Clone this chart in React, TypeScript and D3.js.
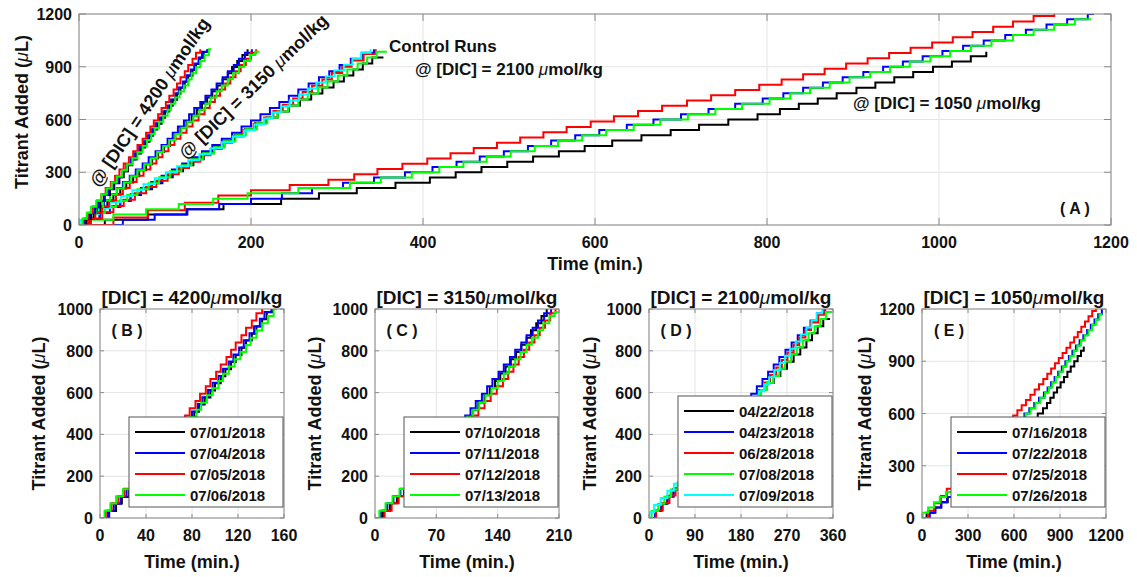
import React from "react";
import * as d3 from "d3";

type Pt = [number, number];
type Series = { label: string; color: string; data: Pt[] };

const FONT = "'Liberation Sans', Arial, Helvetica, sans-serif";

// [time (min.), titrant added (uL)] at each dose
// DIC = 4200 umol/kg
const run0701: Pt[] = [[6,0],[8,34],[14,69],[19,101],[25,136],[30,170],[36,203],[41,238],[47,271],[52,305],[57,340],[62,372],[67,407],[72,441],[77,474],[82,508],[86,543],[91,576],[96,610],[100,645],[105,678],[109,712],[114,747],[118,780],[123,814],[127,849],[132,882],[136,916],[141,951],[145,984],[150,1000]];
const run0704: Pt[] = [[4,0],[7,35],[12,68],[18,103],[23,137],[29,170],[34,205],[40,239],[45,272],[50,306],[55,341],[60,374],[65,408],[70,443],[75,476],[80,510],[85,545],[89,578],[94,612],[98,647],[103,680],[107,714],[112,749],[116,782],[121,816],[125,851],[130,884],[134,918],[139,953],[143,986],[149,1000]];
const run0705: Pt[] = [[3,0],[5,35],[10,70],[16,105],[21,140],[26,175],[31,210],[37,245],[42,280],[47,315],[52,350],[58,385],[63,420],[68,455],[74,490],[78,525],[83,560],[87,595],[92,630],[96,665],[101,700],[105,735],[110,770],[114,805],[118,840],[123,875],[127,910],[132,945],[136,980],[141,1000]];
const run0706: Pt[] = [[1,0],[4,35],[9,69],[14,104],[20,138],[26,173],[32,207],[38,242],[44,276],[50,311],[56,345],[62,380],[68,414],[74,449],[79,483],[84,518],[88,552],[93,587],[98,621],[103,656],[107,690],[112,725],[117,759],[122,794],[127,828],[131,863],[136,897],[141,932],[146,966],[151,1000],[154,1000]];

// DIC = 3150 umol/kg
const run0710: Pt[] = [[5,0],[9,35],[17,70],[25,104],[33,139],[40,173],[48,208],[55,242],[63,277],[70,311],[78,346],[85,380],[92,415],[99,449],[106,484],[112,518],[118,553],[125,587],[131,622],[137,656],[143,691],[149,725],[155,760],[161,794],[167,829],[173,863],[178,898],[184,932],[190,967],[196,1000]];
const run0711: Pt[] = [[2,0],[7,35],[14,70],[21,105],[29,140],[36,175],[44,210],[51,245],[59,280],[66,315],[74,350],[81,385],[89,420],[96,455],[103,490],[109,525],[115,560],[122,595],[128,630],[134,665],[141,700],[147,735],[154,770],[160,805],[167,840],[173,875],[180,910],[186,945],[193,980],[201,1000]];
const run0712: Pt[] = [[8,0],[11,35],[19,70],[27,105],[35,140],[43,175],[51,210],[59,245],[67,280],[75,315],[83,350],[90,385],[97,420],[104,455],[111,490],[118,525],[125,560],[132,595],[139,630],[146,665],[152,700],[158,735],[164,770],[170,805],[176,840],[182,875],[188,910],[194,945],[200,980],[206,1000]];
const run0713: Pt[] = [[0,0],[5,35],[12,70],[20,104],[28,139],[36,173],[44,208],[52,242],[60,277],[68,311],[76,346],[84,380],[91,415],[98,449],[105,484],[112,518],[119,553],[126,587],[133,622],[140,656],[147,691],[153,725],[160,760],[166,794],[173,829],[179,863],[186,898],[192,932],[199,967],[205,985],[210,985]];

// DIC = 2100 umol/kg (control runs)
const run0422: Pt[] = [[8,0],[12,34],[24,68],[36,102],[48,136],[60,170],[72,204],[85,238],[97,272],[109,306],[121,340],[133,374],[145,408],[157,442],[169,476],[181,510],[193,544],[205,578],[218,612],[231,646],[244,680],[257,714],[270,748],[283,782],[296,816],[308,850],[319,884],[330,918],[341,952],[354,952]];
const run0423: Pt[] = [[9,0],[12,35],[24,70],[36,105],[48,140],[60,175],[72,210],[84,245],[96,280],[108,315],[120,350],[132,385],[143,420],[155,455],[166,490],[178,525],[189,560],[200,595],[211,630],[222,665],[233,700],[244,735],[255,770],[267,805],[279,840],[291,875],[303,910],[316,945],[329,980],[343,1000]];
const run0628: Pt[] = [[10,0],[14,36],[27,72],[40,108],[52,144],[65,180],[78,216],[90,252],[103,288],[116,324],[128,360],[141,396],[153,432],[166,468],[178,504],[191,540],[203,576],[215,612],[226,648],[237,684],[249,720],[260,756],[271,792],[283,828],[294,864],[306,900],[317,936],[331,972],[345,1000]];
const run0708: Pt[] = [[2,0],[5,34],[18,68],[30,102],[43,136],[56,170],[68,204],[81,238],[93,272],[106,306],[119,340],[131,374],[144,408],[157,442],[169,476],[182,510],[194,544],[207,578],[219,612],[231,646],[243,680],[255,714],[266,748],[278,782],[289,816],[301,850],[312,884],[324,918],[335,952],[346,986],[358,986]];
const run0709: Pt[] = [[0,0],[1,28],[10,62],[23,96],[36,130],[49,164],[62,198],[75,232],[88,266],[101,300],[114,334],[127,368],[140,402],[153,436],[166,470],[179,504],[192,538],[204,572],[215,606],[225,640],[235,674],[245,708],[256,742],[266,776],[276,810],[287,844],[297,878],[308,912],[318,946],[328,980],[339,1000]];

// DIC = 1050 umol/kg
const run0716: Pt[] = [[12,0],[30,30],[80,60],[125,90],[168,120],[235,150],[279,180],[323,210],[368,240],[408,270],[438,300],[468,330],[498,360],[528,390],[558,420],[588,450],[620,480],[654,510],[688,540],[721,570],[755,600],[789,630],[815,660],[837,690],[859,720],[881,750],[904,780],[926,810],[948,840],[970,870],[993,900],[1015,930],[1037,960],[1055,985]];
const run0722: Pt[] = [[14,0],[51,30],[88,60],[126,90],[163,120],[200,150],[236,180],[271,210],[307,240],[343,270],[379,300],[411,330],[439,360],[466,390],[494,420],[522,450],[549,480],[577,510],[605,540],[637,570],[668,600],[700,630],[732,660],[763,690],[795,720],[819,750],[842,780],[865,810],[888,840],[912,870],[935,900],[958,930],[981,960],[1004,990],[1028,1020],[1052,1050],[1077,1080],[1101,1110],[1125,1140],[1149,1170],[1173,1200],[1180,1200]];
const run0725: Pt[] = [[8,0],[40,42],[80,84],[123,126],[162,168],[200,198],[245,228],[290,258],[320,288],[347,318],[376,348],[405,378],[432,408],[459,438],[486,468],[513,498],[540,528],[567,558],[595,588],[622,618],[650,648],[678,678],[707,708],[735,738],[763,768],[791,798],[817,828],[842,858],[867,888],[892,918],[917,948],[942,978],[967,1008],[992,1038],[1016,1068],[1039,1098],[1063,1128],[1086,1158],[1110,1188],[1134,1218]];
const run0726: Pt[] = [[0,0],[4,30],[40,60],[78,90],[116,120],[156,150],[196,180],[255,210],[315,240],[351,270],[387,300],[419,330],[447,360],[474,390],[502,420],[530,450],[557,480],[585,510],[613,540],[645,570],[676,600],[708,630],[740,660],[771,690],[803,720],[827,750],[850,780],[873,810],[896,840],[920,870],[943,900],[966,930],[990,960],[1013,990],[1037,1020],[1061,1050],[1086,1080],[1110,1110],[1134,1140],[1158,1170],[1177,1170]];

const BLACK = "#000000";
const BLUE = "#0000ff";
const RED = "#ff0000";
const GREEN = "#00ff00";
const CYAN = "#00ffff";

const dic4200: Series[] = [
  { label: "07/01/2018", color: BLACK, data: run0701 },
  { label: "07/04/2018", color: BLUE, data: run0704 },
  { label: "07/05/2018", color: RED, data: run0705 },
  { label: "07/06/2018", color: GREEN, data: run0706 },
];
const dic3150: Series[] = [
  { label: "07/10/2018", color: BLACK, data: run0710 },
  { label: "07/11/2018", color: BLUE, data: run0711 },
  { label: "07/12/2018", color: RED, data: run0712 },
  { label: "07/13/2018", color: GREEN, data: run0713 },
];
const dic2100: Series[] = [
  { label: "04/22/2018", color: BLACK, data: run0422 },
  { label: "04/23/2018", color: BLUE, data: run0423 },
  { label: "06/28/2018", color: RED, data: run0628 },
  { label: "07/08/2018", color: GREEN, data: run0708 },
  { label: "07/09/2018", color: CYAN, data: run0709 },
];
const dic1050: Series[] = [
  { label: "07/16/2018", color: BLACK, data: run0716 },
  { label: "07/22/2018", color: BLUE, data: run0722 },
  { label: "07/25/2018", color: RED, data: run0725 },
  { label: "07/26/2018", color: GREEN, data: run0726 },
];

const frameColor = "#8a8a8a";
const gridColor = "#e4e4e4";

const Mu = () => (
  <tspan fontStyle="italic" fontWeight="normal">μ</tspan>
);

type PanelProps = {
  id: string;
  x0: number;
  y0: number;
  w: number;
  h: number;
  xMax: number;
  yMax: number;
  xTicks: number[];
  yTicks: number[];
  series: Series[];
  tickLen: number;
  tickFs: number;
  labelFs: number;
  yLabelX: number;
  yLabelY?: number;
  xLabelY: number;
  children?: React.ReactNode;
};

function Panel(p: PanelProps) {
  const x = d3.scaleLinear().domain([0, p.xMax]).range([p.x0, p.x0 + p.w]);
  const y = d3.scaleLinear().domain([0, p.yMax]).range([p.y0 + p.h, p.y0]);
  const line = d3
    .line<Pt>()
    .x((d) => x(d[0]))
    .y((d) => y(d[1]))
    .curve(d3.curveStepAfter);
  const bottom = p.y0 + p.h;
  const right = p.x0 + p.w;

  return (
    <g>
      <defs>
        <clipPath id={p.id}>
          <rect x={p.x0} y={p.y0} width={p.w} height={p.h} />
        </clipPath>
      </defs>
      {/* grid */}
      {p.xTicks.map((t) => (
        <line key={"gx" + t} x1={x(t)} x2={x(t)} y1={p.y0} y2={bottom} stroke={gridColor} />
      ))}
      {p.yTicks.map((t) => (
        <line key={"gy" + t} x1={p.x0} x2={right} y1={y(t)} y2={y(t)} stroke={gridColor} />
      ))}
      {/* runs */}
      <g clipPath={`url(#${p.id})`}>
        {p.series.map((s) => (
          <path key={s.label} d={line(s.data) ?? ""} fill="none" stroke={s.color} strokeWidth={2} />
        ))}
      </g>
      {/* frame + inward ticks on all sides */}
      <rect x={p.x0} y={p.y0} width={p.w} height={p.h} fill="none" stroke={frameColor} />
      {p.xTicks.map((t) => (
        <g key={"tx" + t} stroke={frameColor}>
          <line x1={x(t)} x2={x(t)} y1={bottom} y2={bottom - p.tickLen} />
          <line x1={x(t)} x2={x(t)} y1={p.y0} y2={p.y0 + p.tickLen} />
        </g>
      ))}
      {p.yTicks.map((t) => (
        <g key={"ty" + t} stroke={frameColor}>
          <line x1={p.x0} x2={p.x0 + p.tickLen} y1={y(t)} y2={y(t)} />
          <line x1={right} x2={right - p.tickLen} y1={y(t)} y2={y(t)} />
        </g>
      ))}
      {/* tick labels */}
      <g fontWeight="bold" fontSize={p.tickFs} fill="#111">
        {p.xTicks.map((t) => (
          <text key={"lx" + t} x={x(t)} y={bottom + 23} textAnchor="middle">
            {t}
          </text>
        ))}
        {p.yTicks.map((t) => (
          <text key={"ly" + t} x={p.x0 - 7} y={y(t) + 6} textAnchor="end">
            {t}
          </text>
        ))}
      </g>
      {/* axis labels */}
      <g fontWeight="bold" fontSize={p.labelFs} fill="#111">
        <text x={(p.x0 + right) / 2} y={p.xLabelY} textAnchor="middle">
          Time (min.)
        </text>
        <text
          transform={`translate(${p.yLabelX},${p.yLabelY ?? (p.y0 + bottom) / 2}) rotate(-90)`}
          textAnchor="middle"
          dominantBaseline="central"
        >
          Titrant Added (<Mu />L)
        </text>
      </g>
      {p.children}
    </g>
  );
}

function Legend({ right, bottom, series }: { right: number; bottom: number; series: Series[] }) {
  const w = 154;
  const h = series.length * 21 + 6;
  const left = right - w;
  const top = bottom - h;
  return (
    <g>
      <rect x={left} y={top} width={w} height={h} fill="#fff" stroke="#555" />
      {series.map((s, i) => (
        <g key={s.label}>
          <line x1={left + 6} x2={left + 56} y1={top + 15 + i * 21} y2={top + 15 + i * 21} stroke={s.color} strokeWidth={2} />
          <text x={left + 61} y={top + 15 + i * 21 + 5.5} fontSize={15} fontWeight="bold" fill="#111">
            {s.label}
          </text>
        </g>
      ))}
    </g>
  );
}

type SmallSpec = {
  id: string;
  x0: number;
  xMax: number;
  yMax: number;
  xTicks: number[];
  yTicks: number[];
  series: Series[];
  dic: string;
  tag: string;
  yLabelX: number;
};

const smallPanels: SmallSpec[] = [
  { id: "cB", x0: 100, xMax: 160, yMax: 1000, xTicks: [0, 40, 80, 120, 160], yTicks: [0, 200, 400, 600, 800, 1000], series: dic4200, dic: "4200", tag: "( B )", yLabelX: 39 },
  { id: "cC", x0: 375, xMax: 210, yMax: 1000, xTicks: [0, 70, 140, 210], yTicks: [0, 200, 400, 600, 800, 1000], series: dic3150, dic: "3150", tag: "( C )", yLabelX: 315 },
  { id: "cD", x0: 649, xMax: 360, yMax: 1000, xTicks: [0, 90, 180, 270, 360], yTicks: [0, 200, 400, 600, 800, 1000], series: dic2100, dic: "2100", tag: "( D )", yLabelX: 590 },
  { id: "cE", x0: 922, xMax: 1200, yMax: 1200, xTicks: [0, 300, 600, 900, 1200], yTicks: [0, 300, 600, 900, 1200], series: dic1050, dic: "1050", tag: "( E )", yLabelX: 865 },
];

export default function App() {
  const top = { x0: 79, y0: 14, w: 1032, h: 211 };
  const sw = 184;
  const sy = 309;
  const sh = 209;
  return (
    <svg
      width={1137}
      height={577}
      style={{ position: "absolute", left: 0, top: 0, background: "#fff" }}
      fontFamily={FONT}
    >
      <Panel
        id="cA"
        {...top}
        xMax={1200}
        yMax={1200}
        xTicks={[0, 200, 400, 600, 800, 1000, 1200]}
        yTicks={[0, 300, 600, 900, 1200]}
        series={[...dic1050, ...dic2100, ...dic3150, ...dic4200]}
        tickLen={7}
        tickFs={16}
        labelFs={18}
        yLabelX={22}
        yLabelY={112}
        xLabelY={270}
      >
        <g fontWeight="bold" fontSize={18} fill="#111">
          <text x={99} y={188} transform="rotate(-56 99 188)">
            @ [DIC] = 4200 <Mu />mol/kg
          </text>
          <text x={186} y={160} transform="rotate(-44 186 160)">
            @ [DIC] = 3150 <Mu />mol/kg
          </text>
        </g>
        <g fontWeight="bold" fontSize={17} fill="#111">
          <text x={389} y={52}>Control Runs</text>
          <text x={415} y={75}>
            @ [DIC] = 2100 <Mu />mol/kg
          </text>
          <text x={853} y={109}>
            @ [DIC] = 1050 <Mu />mol/kg
          </text>
          <text x={1075} y={214} textAnchor="middle" fontSize={16}>
            ( A )
          </text>
        </g>
      </Panel>
      {smallPanels.map((s) => (
        <Panel
          key={s.id}
          id={s.id}
          x0={s.x0}
          y0={sy}
          w={sw}
          h={sh}
          xMax={s.xMax}
          yMax={s.yMax}
          xTicks={s.xTicks}
          yTicks={s.yTicks}
          series={s.series}
          tickLen={4}
          tickFs={16}
          labelFs={18}
          yLabelX={s.yLabelX}
          xLabelY={568}
        >
          <Legend right={s.x0 + sw - 1} bottom={sy + sh - 11} series={s.series} />
          <text x={s.x0 + sw / 2} y={304} textAnchor="middle" fontWeight="bold" fontSize={19} fill="#111">
            [DIC] = {s.dic}
            <Mu />
            mol/kg
          </text>
          <text x={s.x0 + 27} y={336} textAnchor="middle" fontWeight="bold" fontSize={16} fill="#111">
            {s.tag}
          </text>
        </Panel>
      ))}
    </svg>
  );
}
